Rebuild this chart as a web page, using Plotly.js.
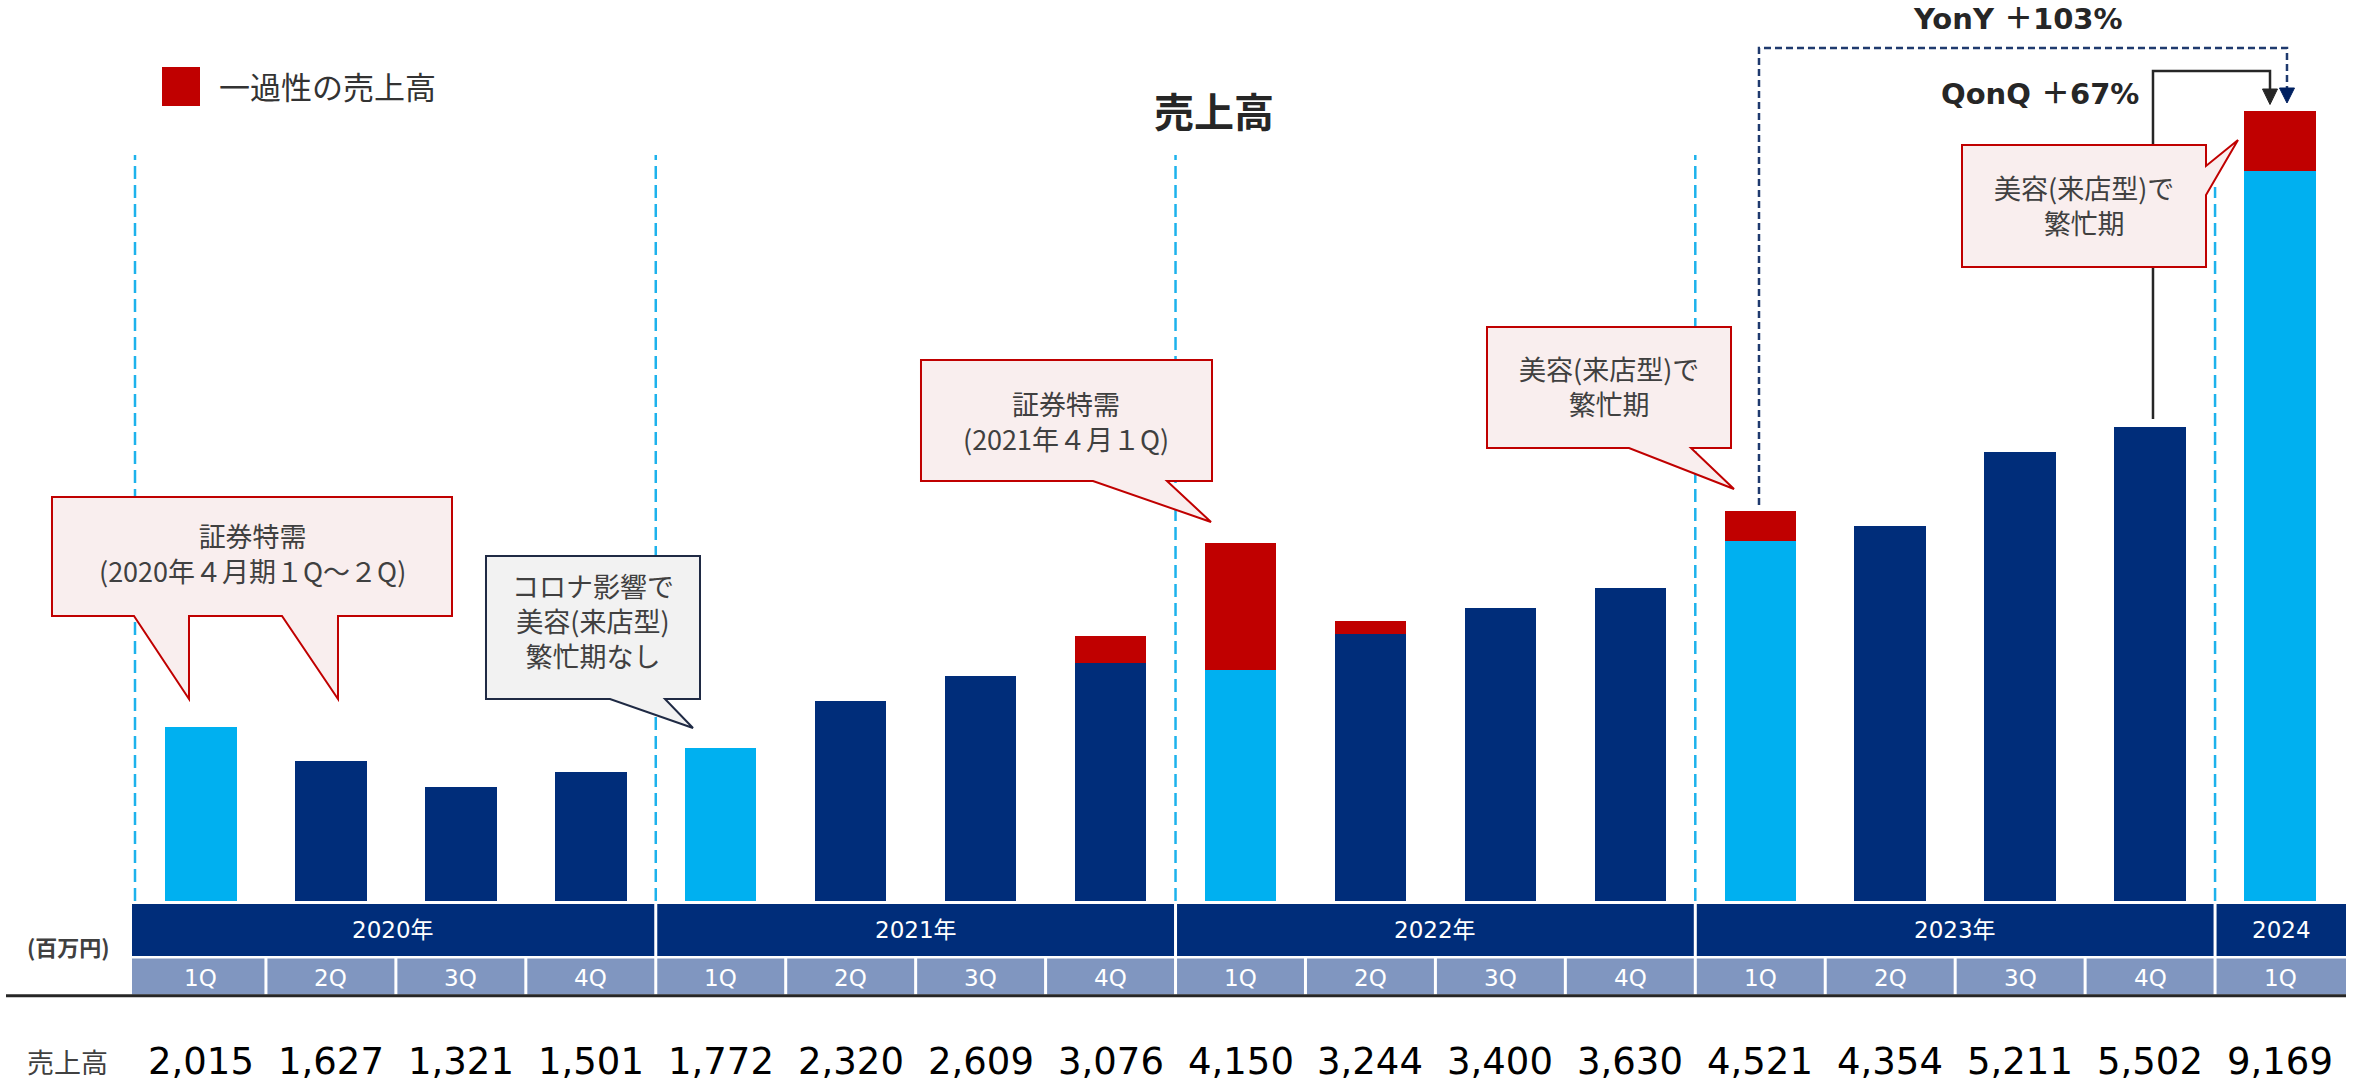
<!DOCTYPE html>
<html><head><meta charset="utf-8">
<script src="https://cdn.plot.ly/plotly-3.0.1.min.js"></script>
<style>html,body{margin:0;padding:0;background:#fff;}#chart{width:2361px;height:1082px;}</style>
</head><body><div id="chart"></div>
<script>
// ---- data ----
const quarters = ['1Q','2Q','3Q','4Q','1Q','2Q','3Q','4Q','1Q','2Q','3Q','4Q','1Q','2Q','3Q','4Q','1Q'];
const years = ['2020年','2021年','2022年','2023年','2024'];
const quartersPerYear = [4,4,4,4,1];
const totalSales   = [2015,1627,1321,1501,1772,2320,2609,3076,4150,3244,3400,3630,4521,4354,5211,5502,9169];
const regularSales = [2015,1627,1321,1501,1772,2320,2609,2766,2675,3093,3400,3630,4173,4354,5211,5502,8466];
const oneTimeSales = [0,0,0,0,0,0,0,310,1475,151,0,0,348,0,0,0,703];
const legendLabel = '一過性の売上高';
const chartTitle = '売上高';
const unitLabel = '(百万円)';
const rowLabel = '売上高';
const yonyLabel = 'YonY ＋103%';
const qonqLabel = 'QonQ ＋67%';

// ---- geometry helpers ----
const W = 2361, H = 1082, ML = 136, MR = 16, MT = 0, MB = 181;
const PW = W - ML - MR, PH = H - MT - MB;
const N = quarters.length;
const PX = px => (px - ML) / PW;
const PY = py => (H - MB - py) / PH;
const DX = v => (v + 0.5) / N;              // data x -> paper x
const pt = p => PX(p[0]).toFixed(5) + ',' + PY(p[1]).toFixed(5);
const poly = pts => 'M ' + pts.map(pt).join(' L ') + ' Z';
const pline = pts => 'M ' + pts.map(pt).join(' L ');

const NAVY = '#002D7A', LIGHT = '#00B0F0', RED = '#C00000', QBAND = '#8096C0';
const CJK = 'Noto Sans CJK JP, sans-serif';
const DJ = 'DejaVu Sans, Noto Sans CJK JP, sans-serif';

const xs = quarters.map((q, i) => i);
const traces = [
  {type:'bar', x: xs, y: regularSales, width: 0.55,
   marker:{color: quarters.map(q => q === '1Q' ? LIGHT : NAVY), line:{width:0}},
   hoverinfo:'skip', showlegend:false},
  {type:'bar', x: xs, y: oneTimeSales, width: 0.55, name: legendLabel,
   marker:{color: RED, line:{width:0}}, hoverinfo:'skip', showlegend:false}
];

const shapes = [];
const annotations = [];

// year separators (dashed light blue)
let start = 0;
const bounds = [];
quartersPerYear.forEach(c => { bounds.push(start); start += c; });
bounds.forEach((b, k) => {
  const x = k === 0 ? PX(135) : DX(b - 0.5);
  const top = k === bounds.length - 1 ? 187 : 155;
  shapes.push({type:'line', xref:'paper', yref:'paper', x0:x, x1:x, y0:PY(901), y1:PY(top),
    line:{color:'#1DB2EC', width:2.5, dash:'13px,6px'}, layer:'below'});
});

// YonY dashed bracket
shapes.push({type:'path', xref:'paper', yref:'paper', path: pline([[1759,505],[1759,48],[2287,48],[2287,92]]),
  line:{color:'#1F3A6E', width:2.5, dash:'7px,4px'}});
shapes.push({type:'path', xref:'paper', yref:'paper', path: poly([[2279.5,88],[2294.5,88],[2287,103]]),
  fillcolor:'#002060', line:{color:'#002060', width:1}});
// QonQ solid bracket
shapes.push({type:'path', xref:'paper', yref:'paper', path: pline([[2153,419],[2153,71],[2270,71],[2270,92]]),
  line:{color:'#262626', width:2.5}});
shapes.push({type:'path', xref:'paper', yref:'paper', path: poly([[2262.5,89],[2277.5,89],[2270,104.5]]),
  fillcolor:'#262626', line:{color:'#262626', width:1}});

// callouts
const PINK = '#F9EEEE', GREY = '#F2F2F2';
const callouts = [
  {pts:[[52,497],[452,497],[452,616],[338,616],[338,699],[282,616],[189,616],[189,699],[134,616],[52,616]],
   fill:PINK, line:RED, text:['証券特需','(2020年４月期１Q～２Q)'], cx:252, cy:553},
  {pts:[[486,556],[700,556],[700,699],[665,699],[693,728],[610,699],[486,699]],
   fill:GREY, line:'#1F2A44', text:['コロナ影響で','美容(来店型)','繁忙期なし'], cx:593, cy:620},
  {pts:[[921,360],[1212,360],[1212,481],[1167,481],[1211,522],[1093,481],[921,481]],
   fill:PINK, line:RED, text:['証券特需','(2021年４月１Q)'], cx:1066, cy:421},
  {pts:[[1487,327],[1731,327],[1731,448],[1691,448],[1734,489],[1629,448],[1487,448]],
   fill:PINK, line:RED, text:['美容(来店型)で','繁忙期'], cx:1609, cy:386},
  {pts:[[1962,145],[2206,145],[2206,166],[2238,140],[2206,195],[2206,267],[1962,267]],
   fill:PINK, line:RED, text:['美容(来店型)で','繁忙期'], cx:2084, cy:205}
];
callouts.forEach(c => {
  shapes.push({type:'path', xref:'paper', yref:'paper', path: poly(c.pts), fillcolor:c.fill,
    line:{color:c.line, width:2}, layer:'above'});
  annotations.push({xref:'paper', yref:'paper', x:PX(c.cx), y:PY(c.cy), xanchor:'center', yanchor:'middle',
    text:c.text.join('<br>'), showarrow:false, align:'center', font:{family:CJK, size:27, color:'#404040'}});
});

// legend
shapes.push({type:'rect', xref:'paper', yref:'paper', x0:PX(162), x1:PX(200), y0:PY(106), y1:PY(67),
  fillcolor:RED, line:{width:0}});
annotations.push({xref:'paper', yref:'paper', x:PX(217), y:PY(86), xanchor:'left', yanchor:'middle',
  text:legendLabel, showarrow:false, font:{family:CJK, size:31, color:'#333333'}});

// YonY / QonQ labels
annotations.push({xref:'paper', yref:'paper', x:PX(2018), y:PY(19), xanchor:'center', yanchor:'middle',
  text:'<b>'+yonyLabel+'</b>', showarrow:false, font:{family:DJ, size:29, color:'#262626'}});
annotations.push({xref:'paper', yref:'paper', x:PX(2141), y:PY(94), xanchor:'right', yanchor:'middle',
  text:'<b>'+qonqLabel+'</b>', showarrow:false, font:{family:DJ, size:29, color:'#262626'}});

// bottom bands
const G = 1.5 / PW;
const leftEdge = PX(132), rightEdge = PX(2346);
start = 0;
quartersPerYear.forEach((c, k) => {
  const x0 = k === 0 ? leftEdge : DX(start - 0.5) + G;
  const x1 = k === quartersPerYear.length - 1 ? rightEdge : DX(start + c - 0.5) - G;
  shapes.push({type:'rect', xref:'paper', yref:'paper', x0, x1, y0:PY(956), y1:PY(904),
    fillcolor:NAVY, line:{width:0}});
  annotations.push({xref:'paper', yref:'paper', x:(x0 + x1) / 2, y:PY(930), xanchor:'center', yanchor:'middle',
    text:years[k], showarrow:false, font:{family:DJ, size:23, color:'#FFFFFF'}});
  start += c;
});
quarters.forEach((q, i) => {
  const x0 = i === 0 ? leftEdge : DX(i - 0.5) + G;
  const x1 = i === N - 1 ? rightEdge : DX(i + 0.5) - G;
  shapes.push({type:'rect', xref:'paper', yref:'paper', x0, x1, y0:PY(994.5), y1:PY(958.5),
    fillcolor:QBAND, line:{width:0}});
  annotations.push({xref:'x', yref:'paper', x:i, y:PY(978), xanchor:'center', yanchor:'middle',
    text:q, showarrow:false, font:{family:DJ, size:23, color:'#FFFFFF'}});
  annotations.push({xref:'x', yref:'paper', x:i, y:PY(1061), xanchor:'center', yanchor:'middle',
    text:totalSales[i].toLocaleString('en-US'), showarrow:false, font:{family:DJ, size:37, color:'#000000'}});
});
shapes.push({type:'line', xref:'paper', yref:'paper', x0:PX(6), x1:rightEdge, y0:PY(995.8), y1:PY(995.8),
  line:{color:'#262626', width:3}});
annotations.push({xref:'paper', yref:'paper', x:PX(68), y:PY(946), xanchor:'center', yanchor:'middle',
  text:'<b>'+unitLabel+'</b>', showarrow:false, font:{family:CJK, size:22, color:'#404040'}});
annotations.push({xref:'paper', yref:'paper', x:PX(67), y:PY(1061), xanchor:'center', yanchor:'middle',
  text:rowLabel, showarrow:false, font:{family:CJK, size:27, color:'#404040'}});

const layout = {
  width: W, height: H,
  margin:{l:ML, r:MR, t:MT, b:MB, pad:0},
  paper_bgcolor:'#FFFFFF', plot_bgcolor:'#FFFFFF',
  barmode:'stack',
  showlegend:false,
  title:{text:'<b>'+chartTitle+'</b>', x:1214/W, xanchor:'center', y:1 - 113/H, yanchor:'middle',
    font:{family:CJK, size:40, color:'#262626'}},
  xaxis:{range:[-0.5, N - 0.5], visible:false, fixedrange:true},
  yaxis:{range:[0, PH / 0.0862], visible:false, fixedrange:true},
  shapes, annotations
};
Plotly.newPlot('chart', traces, layout, {staticPlot:true, displayModeBar:false});
</script>
</body></html>
